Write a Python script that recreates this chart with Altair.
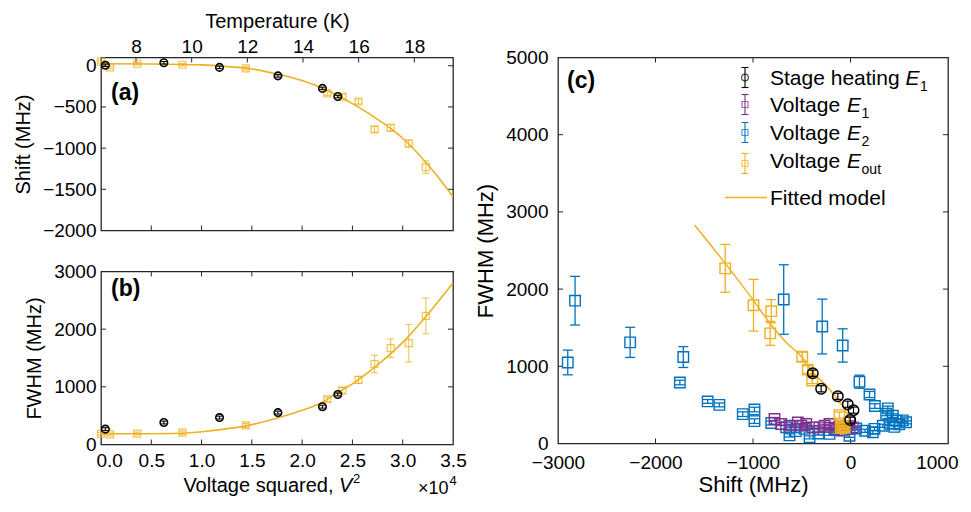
import altair as alt
import pandas as pd

# ---------------- data ----------------
# Panels (a)/(b): voltage data E_out versus V^2 (in units of 1e4 V^2)
eout_v2 = [0.0, 0.09, 0.36, 0.81, 1.44, 2.25, 2.40, 2.56, 2.72, 2.88, 3.06, 3.23]
eout_shift = [50, -20, 24, 12, -32, -335, -374, -434, -773, -753, -944, -1231]
eout_shift_err = [15, 15, 15, 15, 20, 25, 25, 30, 35, 40, 40, 75]
eout_fwhm = [185, 175, 190, 205, 330, 785, 937, 1120, 1396, 1671, 1757, 2231]
eout_fwhm_err = [25, 25, 25, 30, 35, 40, 50, 60, 150, 160, 326, 310]

# Stage heating E1 (plotted against temperature)
stage_temp = [6.9, 9.0, 11.0, 13.1, 14.7, 15.25]
stage_shift = [5, 36, -20, -123, -275, -374]
stage_shift_err = [15, 15, 15, 15, 15, 15]
stage_fwhm = [266, 381, 467, 553, 656, 868]
stage_fwhm_err = [25, 25, 25, 25, 25, 25]

# Fitted model curves
fit_a_v2 = [0.0, 0.5, 1.0, 1.25, 1.5, 1.75, 2.0, 2.25, 2.5, 2.75, 3.0, 3.25, 3.5]
fit_a_shift = [25, 22, 10, -10, -40, -100, -180, -300, -460, -650, -880, -1200, -1590]
fit_b_v2 = [0.0, 0.4, 0.8, 1.1, 1.44, 1.79, 2.0, 2.19, 2.35, 2.5, 2.75, 3.0, 3.25, 3.5]
fit_b_fwhm = [185, 187, 195, 240, 323, 478, 593, 725, 897, 1052, 1380, 1770, 2260, 2800]

# Panel (c)
c_stage_shift = [-3, 31, -28, -130, -301, -387]
c_stage_fwhm = [303, 432, 509, 611, 709, 910]
c_stage_err = [40, 40, 40, 40, 40, 40]

c_eout_shift = [-60, -100, -75, -85, -113, -393, -438, -495, -824, -813, -995, -1285]
c_eout_fwhm = [205, 200, 210, 225, 368, 816, 957, 1124, 1427, 1714, 1791, 2269]
c_eout_err = [25, 25, 25, 30, 40, 40, 50, 60, 155, 150, 335, 310]

c_e2_shift = [-2900, -2825, -2260, -1715, -1750, -1465, -1345, -1105, -985, -985,
              -813, -685, -660, -626, -560, -470, -420, -330, -290, -215,
              -140, -80, -10, 58, 92, 195, 150, 229, 246, 250,
              331, 366, 383, 400, 434, 469, 500, 536, 570, 450]
c_e2_fwhm = [1050, 1850, 1310, 1120, 790, 545, 500, 380, 440, 290,
             265, 1865, 210, 105, 160, 190, 80, 130, 1515, 125,
             170, 1270, 100, 195, 800, 635, 165, 145, 190, 485,
             230, 385, 455, 255, 360, 295, 250, 300, 275, 215]
c_e2_err = [160, 315, 195, 135, 30, 25, 25, 30, 30, 30,
            25, 450, 25, 20, 20, 20, 20, 20, 355, 20,
            20, 215, 20, 20, 85, 40, 20, 20, 20, 30,
            20, 25, 30, 20, 25, 20, 20, 20, 20, 20]

c_e1_shift = [-779, -711, -626, -540, -506, -454, -387, -318, -265, -215,
              -164, -113, -79, -44, -10, 24]
c_e1_fwhm = [317, 253, 231, 273, 231, 253, 209, 209, 230, 253,
             188, 231, 167, 209, 273, 209]
c_e1_err = [20] * 16

c_fit_shift = [-1600, -1446, -1285, -1002, -831, -659, -495, -387, -249, -113, -28, -10]
c_fit_fwhm = [2830, 2590, 2333, 1863, 1564, 1308, 1115, 923, 752, 538, 368, 300]

# tick values
temp_ticks = [8, 10, 12, 14, 16, 18]
v2_ticks = [0.0, 0.5, 1.0, 1.5, 2.0, 2.5, 3.0, 3.5]
a_shift_ticks = [-2000, -1500, -1000, -500, 0]
b_fwhm_ticks = [0, 1000, 2000, 3000]
c_shift_ticks = [-3000, -2000, -1000, 0, 1000]
c_fwhm_ticks = [0, 1000, 2000, 3000, 4000, 5000]

# ---------------- style ----------------
FONT = "Liberation Sans"
YEL = "#EDB120"
BLUE = "#0072BD"
PURP = "#7E2F8E"
INK = "#262626"

W_AB, H_A, H_B = 352, 173, 173
W_C, H_C = 390, 386

# Arial / Liberation Sans advance widths (per 1000 em) for text placement
AW = {"S": 667, "t": 278, "a": 556, "g": 556, "e": 556, " ": 278, "h": 556,
      "i": 222, "n": 556, "V": 667, "o": 556, "l": 222, "s": 500, "q": 556,
      "u": 556, "r": 333, "d": 556, ",": 278, "E": 667, "x": 584, "1": 556,
      "0": 556}


def tw(s, size):
    return sum(AW.get(c, 556) for c in s) * size / 1000.0


def sc(domain):
    return alt.Scale(domain=domain, nice=False, zero=False)


XA = sc([0, 3.5])
XT = sc([6.742, 19.39])
YA = sc([-2000, 100])
YB = sc([0, 3000])
XC = sc([-3000, 1000])
YC = sc([0, 5000])

ONE = pd.DataFrame({"k": [0]})


def points(df, x, y, xs, ys, shape, color, size, sw=1.2, opacity=1.0,
           xaxis=None, yaxis=None):
    return alt.Chart(df).mark_point(
        shape=shape, filled=False, color=color, size=size,
        strokeWidth=sw, opacity=opacity
    ).encode(
        x=alt.X(f"{x}:Q", scale=xs, axis=xaxis),
        y=alt.Y(f"{y}:Q", scale=ys, axis=yaxis),
    )


def errbars(df, x, y, e, xs, ys, color, cap, sw=1.1, opacity=1.0):
    d = df.assign(lo=df[y] - df[e], hi=df[y] + df[e])
    base = alt.Chart(d)
    X = alt.X(f"{x}:Q", scale=xs, axis=None)
    rule = base.mark_rule(color=color, strokeWidth=sw, opacity=opacity).encode(
        x=X, y=alt.Y("lo:Q", scale=ys, axis=None), y2=alt.Y2("hi"))
    lo = base.mark_tick(orient="horizontal", color=color, size=cap,
                        thickness=sw, opacity=opacity).encode(
        x=X, y=alt.Y("lo:Q", scale=ys, axis=None))
    hi = base.mark_tick(orient="horizontal", color=color, size=cap,
                        thickness=sw, opacity=opacity).encode(
        x=X, y=alt.Y("hi:Q", scale=ys, axis=None))
    return [rule, lo, hi]


def curve(df, x, y, xs, ys, color, sw=1.6):
    return alt.Chart(df).mark_line(color=color, strokeWidth=sw,
                                   interpolate="monotone").encode(
        x=alt.X(f"{x}:Q", scale=xs, axis=None),
        y=alt.Y(f"{y}:Q", scale=ys, axis=None),
    )


def xticks(values, scale, h, L=5):
    df = pd.DataFrame({"v": values})
    X = alt.X("v:Q", scale=scale, axis=None)
    return [
        alt.Chart(df).mark_rule(color=INK, strokeWidth=1).encode(
            x=X, y=alt.value(h), y2=alt.value(h - L)),
        alt.Chart(df).mark_rule(color=INK, strokeWidth=1).encode(
            x=X, y=alt.value(0), y2=alt.value(L)),
    ]


def xticks_one(values, scale, y0, y1):
    df = pd.DataFrame({"v": values})
    return alt.Chart(df).mark_rule(color=INK, strokeWidth=1).encode(
        x=alt.X("v:Q", scale=scale, axis=None), y=alt.value(y0), y2=alt.value(y1))


def yticks(values, scale, w, L=5):
    df = pd.DataFrame({"v": values})
    Y = alt.Y("v:Q", scale=scale, axis=None)
    return [
        alt.Chart(df).mark_rule(color=INK, strokeWidth=1).encode(
            y=Y, x=alt.value(0), x2=alt.value(L)),
        alt.Chart(df).mark_rule(color=INK, strokeWidth=1).encode(
            y=Y, x=alt.value(w), x2=alt.value(w - L)),
    ]


def txt(s, x, y, size, style="normal", weight="normal", align="left",
        baseline="alphabetic", color="#000000"):
    return alt.Chart(pd.DataFrame({"t": [s]})).mark_text(
        font=FONT, fontSize=size, fontStyle=style, fontWeight=weight,
        align=align, baseline=baseline, color=color
    ).encode(x=alt.value(x), y=alt.value(y), text="t:N")


def vrule(x, y1, y2, color, sw=1.1):
    return alt.Chart(ONE).mark_rule(color=color, strokeWidth=sw).encode(
        x=alt.value(x), y=alt.value(y1), y2=alt.value(y2))


def hrule(x1, x2, y, color, sw=1.1):
    return alt.Chart(ONE).mark_rule(color=color, strokeWidth=sw).encode(
        x=alt.value(x1), x2=alt.value(x2), y=alt.value(y))


def dot(x, y, shape, color, size, sw=1.2):
    return alt.Chart(ONE).mark_point(shape=shape, filled=False, color=color,
                                     size=size, strokeWidth=sw).encode(
        x=alt.value(x), y=alt.value(y))


# ---------------- panel (a) ----------------
a_df = pd.DataFrame({"v2": eout_v2, "shift": eout_shift, "err": eout_shift_err})
a_stage = pd.DataFrame({"T": stage_temp, "shift": stage_shift, "err": stage_shift_err})
a_fit = pd.DataFrame({"v2": fit_a_v2, "shift": fit_a_shift})

a_layers = []
a_layers.append(xticks_one(v2_ticks[1:-1], XA, H_A, H_A - 5))
a_layers.append(xticks_one(temp_ticks, XT, 0, 5))
a_layers += yticks(a_shift_ticks[1:], YA, W_AB)
a_layers += errbars(a_df, "v2", "shift", "err", XA, YA, YEL, 7, opacity=0.75)
a_layers.append(points(a_df, "v2", "shift", XA, YA, "square", YEL, 49, opacity=0.75,
                       yaxis=alt.Axis(values=a_shift_ticks, title="Shift (MHz)",
                                      format="d", labelPadding=5, titlePadding=9)))
a_layers.append(curve(a_fit, "v2", "shift", XA, YA, YEL))
a_layers += errbars(a_stage, "T", "shift", "err", XT, YA, "#000000", 6)
a_layers.append(points(a_stage, "T", "shift", XT, YA, "circle", "#000000", 56, sw=1.6,
                       xaxis=alt.Axis(orient="top", values=temp_ticks, format="d",
                                      title="Temperature (K)", labelPadding=1,
                                      titlePadding=6, labelFlush=False)))
a_layers.append(txt("(a)", 10, 35, 23, weight="bold", baseline="middle"))

panel_a = alt.layer(*a_layers).resolve_scale(
    x="independent", y="independent").properties(width=W_AB, height=H_A)

# ---------------- panel (b) ----------------
b_df = pd.DataFrame({"v2": eout_v2, "fwhm": eout_fwhm, "err": eout_fwhm_err})
b_stage = pd.DataFrame({"T": stage_temp, "fwhm": stage_fwhm, "err": stage_fwhm_err})
b_fit = pd.DataFrame({"v2": fit_b_v2, "fwhm": fit_b_fwhm})

b_layers = []
b_layers += xticks(v2_ticks[1:-1], XA, H_B)
b_layers += yticks(b_fwhm_ticks[1:-1], YB, W_AB)
b_layers += errbars(b_df, "v2", "fwhm", "err", XA, YB, YEL, 7, opacity=0.75)
b_layers.append(points(
    b_df, "v2", "fwhm", XA, YB, "square", YEL, 49, opacity=0.75,
    xaxis=alt.Axis(values=v2_ticks, format=".1f", title=None, labelPadding=7,
                   labelFlush=False,
                   labelAlign={"condition": {"test": "datum.value == 0", "value": "left"},
                               "value": "center"},
                   labelOffset={"condition": {"test": "datum.value == 0", "value": -5},
                                "value": 0}),
    yaxis=alt.Axis(values=b_fwhm_ticks, title="FWHM (MHz)", format="d",
                   labelPadding=5, titlePadding=9)))
b_layers.append(curve(b_fit, "v2", "fwhm", XA, YB, YEL))
b_layers += errbars(b_stage, "T", "fwhm", "err", XT, YB, "#000000", 6)
b_layers.append(points(b_stage, "T", "fwhm", XT, YB, "circle", "#000000", 56, sw=1.6))
b_layers.append(txt("(b)", 10, 17.5, 23, weight="bold", baseline="middle"))
# x-axis title with italic V and superscript
TB = H_B + 47
b_layers.append(txt("Voltage squared,", 232.5, TB, 20, align="right"))
b_layers.append(txt("V", 238, TB, 20, style="italic"))
b_layers.append(txt("2", 252, TB - 9, 13))
b_layers.append(txt("\u00d710", 317, TB + 2, 18))
b_layers.append(txt("4", 317 + tw("x10", 18) + 1, TB - 7, 13))

panel_b = alt.layer(*b_layers).resolve_scale(
    x="independent", y="independent").properties(width=W_AB, height=H_B)

# ---------------- panel (c) ----------------
c_e2 = pd.DataFrame({"s": c_e2_shift, "f": c_e2_fwhm, "e": c_e2_err})
c_e1 = pd.DataFrame({"s": c_e1_shift, "f": c_e1_fwhm, "e": c_e1_err})
c_eo = pd.DataFrame({"s": c_eout_shift, "f": c_eout_fwhm, "e": c_eout_err})
c_st = pd.DataFrame({"s": c_stage_shift, "f": c_stage_fwhm, "e": c_stage_err})
c_fit = pd.DataFrame({"s": c_fit_shift, "f": c_fit_fwhm})

c_layers = []
c_layers += xticks(c_shift_ticks[1:-1], XC, H_C)
c_layers += yticks(c_fwhm_ticks[1:-1], YC, W_C)
c_layers += errbars(c_e2, "s", "f", "e", XC, YC, BLUE, 10, sw=1.3)
c_layers.append(points(
    c_e2, "s", "f", XC, YC, "square", BLUE, 110, sw=1.4,
    xaxis=alt.Axis(values=c_shift_ticks, title="Shift (MHz)", format="d",
                   labelPadding=10, titlePadding=2, labelFlush=False,
                   titleFontSize=22,
                   labelAlign={"condition": {"test": "datum.value == 1000", "value": "right"},
                               "value": "center"},
                   labelOffset={"condition": {"test": "datum.value == 1000", "value": 10},
                                "value": 0}),
    yaxis=alt.Axis(values=c_fwhm_ticks, title="FWHM (MHz)", format="d",
                   labelPadding=10, titlePadding=8, titleFontSize=22)))
c_layers += errbars(c_e1, "s", "f", "e", XC, YC, PURP, 10, sw=1.3)
c_layers.append(points(c_e1, "s", "f", XC, YC, "square", PURP, 110, sw=1.4))
c_layers += errbars(c_eo, "s", "f", "e", XC, YC, YEL, 10, sw=1.3)
c_layers.append(points(c_eo, "s", "f", XC, YC, "square", YEL, 110, sw=1.4))
c_layers.append(curve(c_fit, "s", "f", XC, YC, YEL, sw=1.5))
c_layers += errbars(c_st, "s", "f", "e", XC, YC, "#000000", 7, sw=1.2)
c_layers.append(points(c_st, "s", "f", XC, YC, "circle", "#000000", 110, sw=1.5))
c_layers.append(txt("(c)", 9, 23, 23, weight="bold", baseline="middle"))

# legend drawn inside the axes
LX_T, LX_S, LFS = 212, 187, 21
legend_rows = [
    ("Stage heating ", "1", "circle", "#000000", 20, 20),
    ("Voltage ", "1", "square", PURP, 47, 47),
    ("Voltage ", "2", "square", BLUE, 75, 75),
    ("Voltage ", "out", "square", YEL, 103, 106),
]
for main, sub, shape, colr, ty, sy in legend_rows:
    base_y = ty + 7.5
    c_layers.append(txt(main.strip(), LX_T, base_y, LFS))
    ex = LX_T + tw(main, LFS)
    c_layers.append(txt("E", ex, base_y, LFS, style="italic"))
    c_layers.append(txt(sub, ex + tw("E", LFS) + 0.5, base_y + 5.5, 14))
    c_layers.append(vrule(LX_S, sy - 10, sy + 10, colr))
    c_layers.append(hrule(LX_S - 3.5, LX_S + 3.5, sy - 10, colr))
    c_layers.append(hrule(LX_S - 3.5, LX_S + 3.5, sy + 10, colr))
    c_layers.append(dot(LX_S, sy, shape, colr, 45 if shape == "circle" else 36))
c_layers.append(hrule(167, 209, 140, YEL, sw=1.5))
c_layers.append(txt("Fitted model", LX_T, 147.5, LFS))

panel_c = alt.layer(*c_layers).resolve_scale(
    x="independent", y="independent").properties(width=W_C, height=H_C)

# ---------------- assemble ----------------
left = alt.vconcat(panel_a, panel_b, spacing=20)
chart = alt.hconcat(left, panel_c, spacing=7).properties(
    padding={"left": 4, "top": 2.5, "right": 0, "bottom": 0},
    background="white",
).configure_axis(
    labelFont=FONT, labelFontSize=19, labelColor="#000000",
    titleFont=FONT, titleFontSize=20, titleFontWeight="normal",
    titleColor="#000000", ticks=False, domain=False, grid=False,
).configure_view(stroke=INK, strokeWidth=1.3)

chart.save("out.html", embed_options={"renderer": "svg", "actions": False})
